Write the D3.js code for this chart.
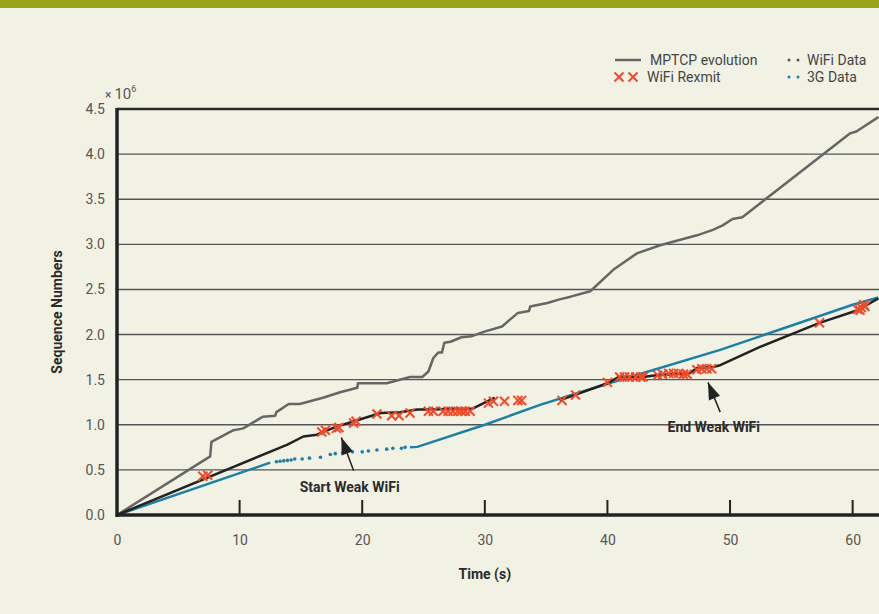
<!DOCTYPE html>
<html>
<head>
<meta charset="utf-8">
<script src="https://cdn.jsdelivr.net/npm/d3@7"></script>
<style>
  html, body { margin: 0; padding: 0; background: #f2f2e4; }
  svg { display: block; }
  text { font-family: Roboto, "Liberation Sans", sans-serif; }
</style>
</head>
<body>
<div id="chart"></div>
<script>
// x tick values (time, s) and y tick values (sequence numbers, x 10^6)
const xTicks = [0, 10, 20, 30, 40, 50, 60];
const yTicks = [0, 0.5, 1.0, 1.5, 2.0, 2.5, 3.0, 3.5, 4.0, 4.5];

// MPTCP evolution (grey)
const mptcpEvolution = [
  [0, 0], [7.6, 0.65], [7.7, 0.81], [9.5, 0.94], [10.3, 0.96], [11.9, 1.09], [12.9, 1.10],
  [13.0, 1.14], [14.0, 1.23], [14.9, 1.23], [16.8, 1.30], [18.2, 1.36], [19.6, 1.41],
  [19.65, 1.46], [22.0, 1.46], [23.9, 1.53], [24.9, 1.53], [25.4, 1.59], [25.8, 1.74],
  [26.2, 1.80], [26.5, 1.80], [26.7, 1.91], [27.2, 1.92], [28.1, 1.97], [28.9, 1.98],
  [29.9, 2.03], [31.4, 2.09], [32.0, 2.16], [32.7, 2.24], [33.6, 2.26], [33.7, 2.31],
  [35.1, 2.35], [36.1, 2.39], [37.0, 2.42], [38.6, 2.48], [40.5, 2.72], [42.4, 2.90],
  [44.3, 2.99], [47.3, 3.10], [48.6, 3.16], [49.4, 3.21], [50.2, 3.28], [51.0, 3.30],
  [59.8, 4.23], [60.3, 4.25], [62.1, 4.41]
];

// WiFi data (black), two runs with a gap
const wifiDataA = [
  [0, 0], [13.9, 0.78], [15.2, 0.87], [16.3, 0.89], [17.9, 0.98], [19.6, 1.05], [21.5, 1.13],
  [23.1, 1.14], [24.5, 1.17], [25.5, 1.17], [29.0, 1.18], [30.2, 1.26], [30.8, 1.30]
];
const wifiDataB = [
  [36.1, 1.27], [40.0, 1.46], [40.9, 1.53], [42.9, 1.53], [44.0, 1.55], [46.7, 1.57],
  [47.3, 1.63], [48.6, 1.64], [49.2, 1.66], [52.4, 1.86], [57.3, 2.13], [60.4, 2.27], [62.1, 2.40]
];

// 3G data (blue): solid runs plus sparse points
const g3DataA = [[0, 0], [12.5, 0.58]];
const g3DataDots = [
  [13.0, 0.59], [13.3, 0.595], [13.6, 0.60], [13.9, 0.605], [14.2, 0.61], [14.5, 0.62],
  [15.1, 0.62], [15.7, 0.63], [16.6, 0.64], [17.4, 0.67], [17.8, 0.68], [18.4, 0.69],
  [19.2, 0.70], [20.0, 0.70], [20.5, 0.71], [21.2, 0.72], [22.0, 0.73], [22.5, 0.74],
  [23.2, 0.74], [23.5, 0.75]
];
const g3DataB = [
  [23.9, 0.75], [24.5, 0.755], [30.0, 1.00], [34.5, 1.22], [40.0, 1.455], [49.2, 1.83],
  [60.0, 2.33], [62.1, 2.41]
];

// WiFi retransmissions (red crosses)
const wifiRexmit = [
  [7.0, 0.43], [7.4, 0.44],
  [16.7, 0.92], [17.0, 0.94], [17.9, 0.96], [18.1, 0.97], [19.3, 1.02], [19.5, 1.04],
  [21.2, 1.12], [22.4, 1.10], [23.0, 1.10], [23.9, 1.13],
  [25.4, 1.15], [25.8, 1.15], [26.6, 1.15], [27.0, 1.15], [27.4, 1.15], [27.8, 1.15],
  [28.1, 1.15], [28.4, 1.15], [28.8, 1.15],
  [30.3, 1.24], [30.7, 1.26], [31.6, 1.26], [32.7, 1.27], [33.0, 1.27],
  [36.3, 1.27], [37.4, 1.33], [40.0, 1.47],
  [41.0, 1.53], [41.4, 1.53], [41.8, 1.53], [42.3, 1.53], [42.7, 1.53], [42.9, 1.53],
  [44.1, 1.55], [44.5, 1.56], [45.0, 1.57], [45.4, 1.57], [45.8, 1.57], [46.2, 1.56], [46.5, 1.56],
  [47.3, 1.61], [47.7, 1.62], [48.1, 1.62], [48.5, 1.62],
  [57.3, 2.13],
  [60.4, 2.28], [60.6, 2.27], [60.7, 2.30], [60.9, 2.33], [61.0, 2.31]
];

// annotations: text, text position, arrow tail and tip (data units)
const annotations = [
  { label: 'Start Weak WiFi', tx: 14.9, ty: 0.25, from: [19.3, 0.49], to: [18.3, 0.86] },
  { label: 'End Weak WiFi', tx: 44.9, ty: 0.92, from: [49.2, 1.14], to: [48.2, 1.47] }
];

const W = 879, H = 614;
const margin = { left: 117, right: 0, top: 109, bottom: 99 };

const svg = d3.select('#chart').append('svg')
  .attr('width', W)
  .attr('height', H);

svg.append('rect').attr('width', W).attr('height', H).attr('fill', '#f2f2e4');
svg.append('rect').attr('width', W).attr('height', 8).attr('fill', '#9aa219');

const x = d3.scaleLinear().domain([0, 62.15]).range([margin.left, W - margin.right]);
const y = d3.scaleLinear().domain([0, 4.5]).range([H - margin.bottom, margin.top]);

svg.append('defs').append('clipPath').attr('id', 'plot')
  .append('rect')
  .attr('x', margin.left).attr('y', margin.top - 2)
  .attr('width', W - margin.left).attr('height', H - margin.bottom - margin.top + 4);

// Gridlines
svg.append('g')
  .selectAll('line')
  .data(yTicks.filter(d => d > 0 && d < 4.5))
  .join('line')
  .attr('x1', margin.left).attr('x2', W)
  .attr('y1', d => y(d)).attr('y2', d => y(d))
  .attr('stroke', '#555').attr('stroke-width', 1.4);

// top border
svg.append('line')
  .attr('x1', margin.left).attr('x2', W)
  .attr('y1', y(4.5)).attr('y2', y(4.5))
  .attr('stroke', '#2a2a2a').attr('stroke-width', 2.5);

// Axes
const xAxis = svg.append('g')
  .attr('transform', `translate(0,${y(0)})`)
  .call(d3.axisBottom(x).tickValues(xTicks).tickSize(0).tickPadding(20).tickFormat(d3.format('d')));
xAxis.select('.domain').remove();
xAxis.selectAll('text').style('font-size', '14px').style('fill', '#555');

svg.append('g')
  .selectAll('line')
  .data(xTicks.filter(d => d > 0))
  .join('line')
  .attr('x1', d => x(d)).attr('x2', d => x(d))
  .attr('y1', y(0)).attr('y2', y(0) - 15)
  .attr('stroke', '#222').attr('stroke-width', 2);

const yAxis = svg.append('g')
  .attr('transform', `translate(${margin.left},0)`)
  .call(d3.axisLeft(y).tickValues(yTicks).tickSize(0).tickPadding(12).tickFormat(d3.format('.1f')));
yAxis.select('.domain').remove();
yAxis.selectAll('text').style('font-size', '14px').style('fill', '#555');

// x 10^6
const expo = svg.append('text')
  .attr('x', 105).attr('y', 99)
  .style('fill', '#555');
expo.append('tspan').style('font-size', '12px').text('× ');
expo.append('tspan').style('font-size', '15px').text('10');
expo.append('tspan').attr('dy', -7).style('font-size', '9px').text('6');

// Data
const plot = svg.append('g').attr('clip-path', 'url(#plot)');
const line = d3.line().x(d => x(d[0])).y(d => y(d[1]));

plot.append('path').datum(mptcpEvolution)
  .attr('d', line).attr('fill', 'none')
  .attr('stroke', '#666').attr('stroke-width', 2.5).attr('stroke-linejoin', 'round');

[g3DataA, g3DataB].forEach(seg => {
  plot.append('path').datum(seg)
    .attr('d', line).attr('fill', 'none')
    .attr('stroke', '#1b7fa6').attr('stroke-width', 2.5);
});
plot.append('g').selectAll('circle')
  .data(g3DataDots)
  .join('circle')
  .attr('cx', d => x(d[0])).attr('cy', d => y(d[1]))
  .attr('r', 1.8).attr('fill', '#1b7fa6');

[wifiDataA, wifiDataB].forEach(seg => {
  plot.append('path').datum(seg)
    .attr('d', line).attr('fill', 'none')
    .attr('stroke', '#222').attr('stroke-width', 2.5).attr('stroke-linejoin', 'round');
});

const cross = d3.symbol().type(d3.symbolX).size(55);
plot.append('g').selectAll('path')
  .data(wifiRexmit)
  .join('path')
  .attr('d', cross)
  .attr('transform', d => `translate(${x(d[0])},${y(d[1])})`)
  .attr('fill', 'none').attr('stroke', '#ee4a2b').attr('stroke-width', 2);

// Axis lines (thick)
svg.append('line')
  .attr('x1', margin.left).attr('x2', margin.left)
  .attr('y1', y(4.5) - 1).attr('y2', y(0) + 2)
  .attr('stroke', '#222').attr('stroke-width', 3.5);
svg.append('line')
  .attr('x1', margin.left - 1).attr('x2', W)
  .attr('y1', y(0)).attr('y2', y(0))
  .attr('stroke', '#222').attr('stroke-width', 3.5);

// Annotations
annotations.forEach(a => {
  svg.append('line')
    .attr('x1', x(a.from[0])).attr('y1', y(a.from[1]))
    .attr('x2', x(a.to[0])).attr('y2', y(a.to[1]))
    .attr('stroke', '#222').attr('stroke-width', 1.5);
  const dx = x(a.to[0]) - x(a.from[0]);
  const dy = y(a.to[1]) - y(a.from[1]);
  const ang = Math.atan2(dy, dx);
  const tipX = x(a.to[0]), tipY = y(a.to[1]);
  const L = 17, Wd = 6;
  const bx = tipX - L * Math.cos(ang), by = tipY - L * Math.sin(ang);
  svg.append('path')
    .attr('d', `M${tipX},${tipY} L${bx + Wd * Math.sin(ang)},${by - Wd * Math.cos(ang)} L${bx - Wd * Math.sin(ang)},${by + Wd * Math.cos(ang)} Z`)
    .attr('fill', '#222');
  svg.append('text')
    .attr('x', x(a.tx)).attr('y', y(a.ty))
    .style('font-size', '14px').style('font-weight', 'bold').style('fill', '#2a2a2a')
    .text(a.label);
});

// Axis titles
svg.append('text')
  .attr('transform', `translate(62,${(y(0) + y(4.5)) / 2}) rotate(-90)`)
  .attr('text-anchor', 'middle')
  .style('font-size', '14px').style('font-weight', 'bold').style('fill', '#2a2a2a')
  .text('Sequence Numbers');

svg.append('text')
  .attr('x', x(30)).attr('y', 579)
  .attr('text-anchor', 'middle')
  .style('font-size', '14px').style('font-weight', 'bold').style('fill', '#2a2a2a')
  .text('Time (s)');

// Legend
const legend = svg.append('g');
legend.append('line')
  .attr('x1', 615).attr('x2', 641).attr('y1', 60).attr('y2', 60)
  .attr('stroke', '#666').attr('stroke-width', 2.5);
legend.append('text').attr('x', 650).attr('y', 65).text('MPTCP evolution');
[619, 633].forEach(cx => {
  legend.append('path').attr('d', cross).attr('transform', `translate(${cx},77)`)
    .attr('fill', 'none').attr('stroke', '#ee4a2b').attr('stroke-width', 2);
});
legend.append('text').attr('x', 647).attr('y', 82).text('WiFi Rexmit');
[789, 798].forEach(cx => {
  legend.append('circle').attr('cx', cx).attr('cy', 60).attr('r', 1.5).attr('fill', '#555');
  legend.append('circle').attr('cx', cx).attr('cy', 77).attr('r', 1.5).attr('fill', '#1b7fa6');
});
legend.append('text').attr('x', 807).attr('y', 65).text('WiFi Data');
legend.append('text').attr('x', 807).attr('y', 82).text('3G Data');
legend.selectAll('text').style('font-size', '14px').style('fill', '#444');
</script>
</body>
</html>
